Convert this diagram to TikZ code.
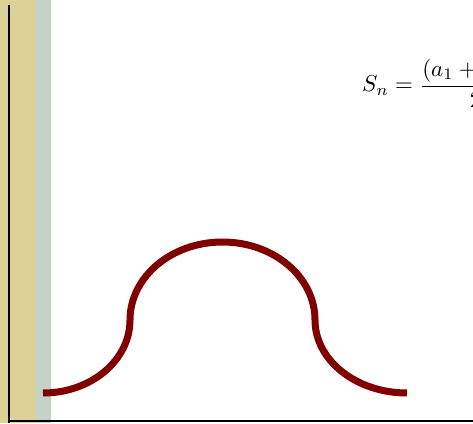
\documentclass[tikz,border=0pt]{standalone}
\usepackage{amsmath}
\definecolor{bandtan}{RGB}{220,209,151}
\definecolor{bandgrey}{RGB}{197,210,199}
\definecolor{curvered}{RGB}{128,0,0}
\tikzset{
  axisline/.style={line width=1.8pt, black},
  bellcurve/.style={line width=7pt, curvered, line cap=butt},
  formula/.style={inner sep=0pt, anchor=base west}
}
\begin{document}
\begin{tikzpicture}[x=1pt,y=1pt]
\useasboundingbox (0,0) rectangle (473,423);
\clip (0,0) rectangle (473,423);
\fill[bandtan] (0,0) rectangle (36,423);
\fill[bandgrey] (36,0) rectangle (51,423);
\draw[axisline] (9,418) -- (9,0);
\draw[axisline] (9,2) -- (473,2);
\node[formula] (sn) at (362,331) {\scalebox{2.3}{$S_n = \dfrac{(a_1 + a_n)n}{2}$}};
\draw[bellcurve] (43,30) arc[start angle=-90, end angle=0, x radius=87, y radius=73]
  arc[start angle=180, end angle=0, x radius=92.5, y radius=78]
  arc[start angle=180, end angle=270, x radius=92, y radius=73];
\end{tikzpicture}
\end{document}
